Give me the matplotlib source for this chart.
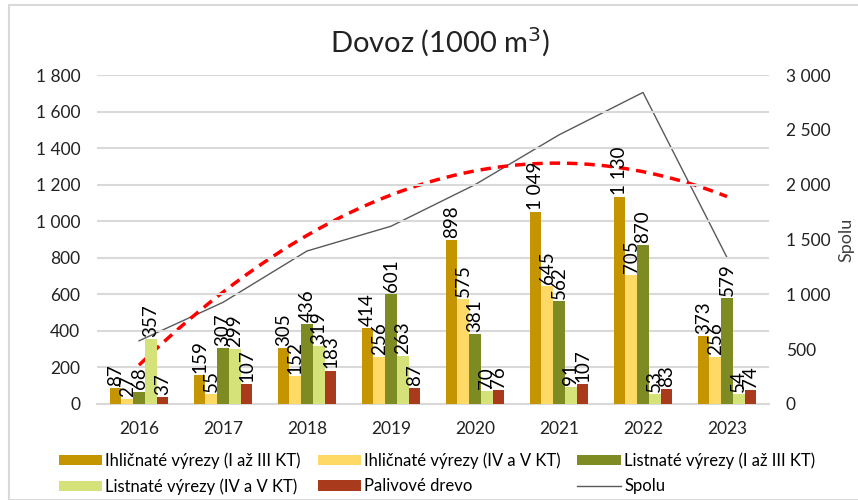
import numpy as np
import matplotlib
matplotlib.use('Agg')
import matplotlib.pyplot as plt
from matplotlib.patches import Rectangle
from matplotlib.ticker import FuncFormatter

# Data
years = ['2016', '2017', '2018', '2019', '2020', '2021', '2022', '2023']
ihl_1_3 = [87, 159, 305, 414, 898, 1049, 1130, 373]
ihl_4_5 = [27, 55, 152, 256, 575, 645, 705, 256]
lis_1_3 = [68, 307, 436, 601, 381, 562, 870, 579]
lis_4_5 = [357, 299, 319, 263, 70, 91, 53, 54]
palivove = [37, 107, 183, 87, 76, 107, 83, 74]

series_names = ['Ihličnaté výrezy (I až III KT)', 'Ihličnaté výrezy (IV a V KT)',
                'Listnaté výrezy (I až III KT)', 'Listnaté výrezy (IV a V KT)',
                'Palivové drevo']
series_colors = ['#C49500', '#FFD966', '#7E8B22', '#D5E27A', '#A93A1C']

plt.rcParams['font.family'] = ['Lato', 'DejaVu Sans']


def thousands(v, pos=None):
    return f'{int(round(v)):,}'.replace(',', ' ')


def analyze_dovoz():
    series = [ihl_1_3, ihl_4_5, lis_1_3, lis_4_5, palivove]
    spolu = np.sum(np.array(series), axis=0)
    x = np.arange(len(years))

    fig = plt.figure(figsize=(8.58, 5.0), dpi=100)
    ax = fig.add_axes([97 / 858, 1 - 404 / 500, 672 / 858, 329 / 500])
    ax2 = ax.twinx()

    # outer chart frame
    fig.patches.append(Rectangle((9 / 858, 0.0), 1.0, 1 - 5 / 500, transform=fig.transFigure,
                                 fill=False, edgecolor='#D9D9D9', linewidth=1.5))

    # bars with rotated value labels
    width = 0.14
    handles = []
    for i, (vals, name, col) in enumerate(zip(series, series_names, series_colors)):
        pos = x + (i - 2) * width
        b = ax.bar(pos, vals, width=width, color=col, label=name, zorder=3)
        handles.append(b)
        for px, v in zip(pos, vals):
            ax.text(px, v + 12, thousands(v), rotation=90, ha='center', va='bottom',
                    fontsize=13.5, color='black', zorder=5)

    # Spolu line and its polynomial (order 2) trendline on the secondary axis
    line, = ax2.plot(x, spolu, color='#595959', linewidth=1.0, label='Spolu', zorder=4)
    coef = np.polyfit(x, spolu, 2)
    xs = np.linspace(x[0], x[-1], 200)
    ax2.plot(xs, np.polyval(coef, xs), color='#FF0000', linewidth=2.5,
             linestyle=(0, (3, 2)), zorder=4)
    handles.append(line)

    ax.set_xlim(-0.5, len(years) - 0.5)
    ax.set_ylim(0, 1800)
    ax.set_yticks(np.arange(0, 1801, 200))
    ax2.set_ylim(0, 3000)
    ax2.set_yticks(np.arange(0, 3001, 500))
    ax.yaxis.set_major_formatter(FuncFormatter(thousands))
    ax2.yaxis.set_major_formatter(FuncFormatter(thousands))
    ax.set_xticks(x)
    ax.set_xticklabels(years)

    ax.grid(axis='y', color='#D9D9D9', linewidth=1.5, zorder=0)
    ax.set_axisbelow(True)
    for a in (ax, ax2):
        for s in a.spines.values():
            s.set_visible(False)
        a.tick_params(length=0, labelsize=12.5, colors='#222222', pad=12)
    ax.spines['bottom'].set_visible(True)
    ax.spines['bottom'].set_color('#D9D9D9')
    ax.spines['bottom'].set_linewidth(1.5)
    ax.set_zorder(ax2.get_zorder() + 1)
    ax.patch.set_visible(False)
    ax2.set_ylabel('Spolu', fontsize=13, color='#404040', labelpad=6)

    fig.text(0.513, 1 - 42 / 500, 'Dovoz (1000 m$^3$)', ha='center', va='center',
             fontsize=21, color='#222222')

    # legend in row-major order
    order = [0, 3, 1, 4, 2, 5]
    fig.legend([handles[i] for i in order],
               [(series_names + ['Spolu'])[i] for i in order],
               ncol=3, loc='upper left', bbox_to_anchor=(52 / 858, 1 - 446 / 500),
               frameon=False, fontsize=12, handlelength=2.6, handleheight=0.55,
               handletextpad=0.2, columnspacing=1.0, labelspacing=0.55,
               borderaxespad=0)

    fig.savefig('out.png', dpi=100)


if __name__ == '__main__':
    analyze_dovoz()
